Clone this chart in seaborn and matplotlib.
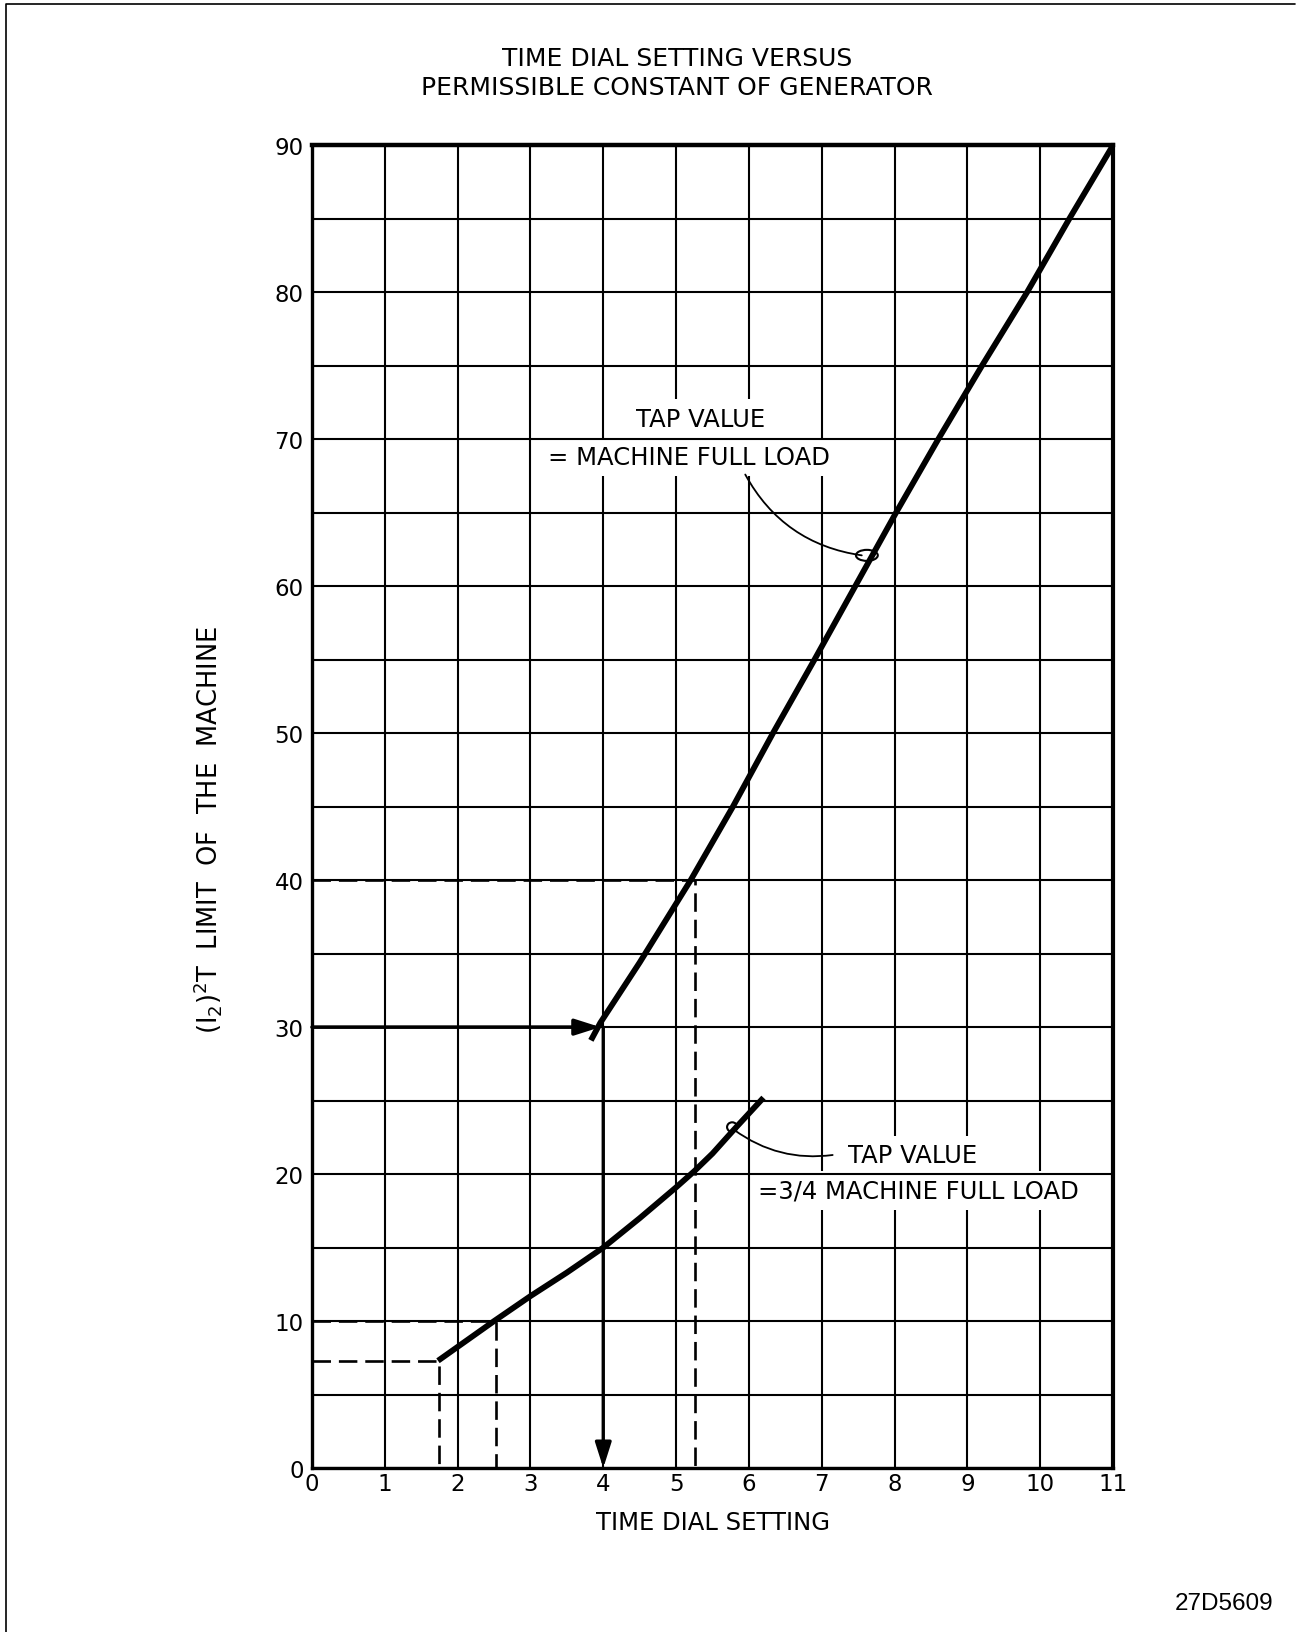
import numpy as np
import pandas as pd
import seaborn as sns
import matplotlib.pyplot as plt
from matplotlib.patches import Ellipse
from matplotlib.lines import Line2D

# curve: tap value = machine full load
full_x = [3.83, 3.96, 4.5, 5.2, 5.78, 6.33, 6.9, 7.46, 8.02, 8.6, 9.2, 9.82, 10.4, 11.0]
full_y = [29.1, 30.3, 34.4, 40.0, 45.0, 50.0, 55.0, 60.0, 65.0, 70.0, 75.0, 80.0, 85.0, 90.0]

# tap value = 3/4 machine full load
three_q_x = [1.73, 2.5, 3.0, 3.5, 4.0, 4.5, 5.0, 5.25, 5.5, 5.79, 6.2]
three_q_y = [7.3, 10.0, 11.7, 13.3, 15.0, 17.0, 19.1, 20.2, 21.4, 23.0, 25.2]

# dashed read-off lines (x, y corner)
dashed_pts = [(1.74, 7.3), (2.52, 10.0), (5.26, 40.0)]

x_ticks = list(range(0, 12))
y_ticks = list(range(0, 91, 10))
x_grid = list(range(0, 12))
y_grid = list(range(0, 91, 5))

df = pd.concat([
    pd.DataFrame({'x': full_x, 'y': full_y, 'curve': 'full'}),
    pd.DataFrame({'x': three_q_x, 'y': three_q_y, 'curve': 'three_quarter'}),
])

sns.set_theme(style='white')
plt.rcParams['font.family'] = ['DejaVu Sans']
plt.rcParams.update({'text.color': 'black', 'axes.labelcolor': 'black',
                     'xtick.color': 'black', 'ytick.color': 'black'})

fig = plt.figure(figsize=(12.99, 16.33), dpi=100)
ax = fig.add_axes([0.2402, 0.1004, 0.6166, 0.8100])

# grid: verticals under the text boxes, horizontals above them
ax.vlines(x_grid, 0, 90, colors='black', lw=1.5, zorder=0.5)
ax.hlines(y_grid, 0, 11, colors='black', lw=1.5, zorder=2)

sns.lineplot(data=df, x='x', y='y', hue='curve', palette=['black', 'black'],
             sort=False, estimator=None, lw=4.2, legend=False, ax=ax, zorder=4)
for line in ax.get_lines():
    line.set_solid_capstyle('butt')
    line.set_solid_joinstyle('round')

# dashed construction lines
for dx, dy in dashed_pts:
    ax.plot([0, dx, dx], [dy, dy, 0], color='black', lw=1.9,
            dashes=(7, 3), zorder=3)

# arrows: 30 across to curve, then down to time dial 4
head = '-|>,head_width=0.35,head_length=1.1'
ax.annotate('', xy=(3.96, 30), xytext=(0, 30),
            arrowprops=dict(arrowstyle=head, lw=2.6, color='black',
                            mutation_scale=14, shrinkA=0, shrinkB=0), zorder=5)
ax.annotate('', xy=(4.0, 0), xytext=(4.0, 30),
            arrowprops=dict(arrowstyle=head, lw=2.4, color='black',
                            mutation_scale=14, shrinkA=0, shrinkB=0), zorder=5)

# annotations
box = dict(boxstyle='square,pad=0.3', fc='white', ec='none')
ax.text(5.33, 71.4, 'TAP VALUE', ha='center', va='center', fontsize=17.5,
        bbox=box, zorder=1)
ax.text(5.17, 68.8, '= MACHINE FULL LOAD', ha='center', va='center',
        fontsize=17.5, bbox=box, zorder=1)
ax.text(8.25, 21.3, 'TAP VALUE', ha='center', va='center', fontsize=17.5,
        bbox=box, zorder=1)
ax.text(8.33, 18.9, '=3/4 MACHINE FULL LOAD', ha='center', va='center',
        fontsize=17.5, bbox=box, zorder=1)

ax.annotate('', xy=(7.55, 62.1), xytext=(5.95, 67.6),
            arrowprops=dict(arrowstyle='-', lw=1.3, color='black',
                            connectionstyle='arc3,rad=0.25',
                            shrinkA=0, shrinkB=0), zorder=5)
ax.add_patch(Ellipse((7.62, 62.1), 0.3, 0.75, angle=0, fill=False,
                     ec='black', lw=1.5, zorder=5))
ax.annotate('', xy=(7.15, 21.3), xytext=(5.8, 23.0),
            arrowprops=dict(arrowstyle='-', lw=1.3, color='black',
                            connectionstyle='arc3,rad=0.2',
                            shrinkA=0, shrinkB=0), zorder=5)
ax.add_patch(Ellipse((5.77, 23.2), 0.14, 0.65, fill=False,
                     ec='black', lw=1.5, zorder=5))

ax.set_xlim(0, 11)
ax.set_ylim(0, 90)
ax.set_xticks(x_ticks)
ax.set_yticks(y_ticks)
ax.set_xticklabels([str(v) for v in x_ticks], fontsize=16.5)
ax.set_yticklabels([str(v) for v in y_ticks], fontsize=16.5)
ax.tick_params(axis='both', length=0, colors='black')
ax.tick_params(axis='x', pad=3)
ax.tick_params(axis='y', pad=6)
ax.set_xlabel('TIME DIAL SETTING', fontsize=17.5, labelpad=11, color='black')
ax.set_ylabel(r'$(\mathrm{I}_2)^2$T  LIMIT  OF  THE  MACHINE', fontsize=18.5,
              color='black')
ax.yaxis.set_label_coords(-0.11, 0.483)
for side, w in [('left', 2.4), ('bottom', 2.4), ('top', 3.2), ('right', 3.0)]:
    ax.spines[side].set_visible(True)
    ax.spines[side].set_color('black')
    ax.spines[side].set_linewidth(w)
    ax.spines[side].set_zorder(6)

fig.text(0.521, 0.964, 'TIME DIAL SETTING VERSUS', ha='center', va='center',
         fontsize=18)
fig.text(0.521, 0.946, 'PERMISSIBLE CONSTANT OF GENERATOR', ha='center',
         va='center', fontsize=18)
fig.text(0.942, 0.0178, '27D5609', ha='center', va='center', fontsize=17.5,
         family=['Liberation Sans', 'DejaVu Sans'])

# page border (left and top)
fig.add_artist(Line2D([0.0046, 0.0046, 0.997], [0.0, 0.9969, 0.9969],
                      transform=fig.transFigure, color='black', lw=1.2))

fig.savefig('out.png', dpi=100)
